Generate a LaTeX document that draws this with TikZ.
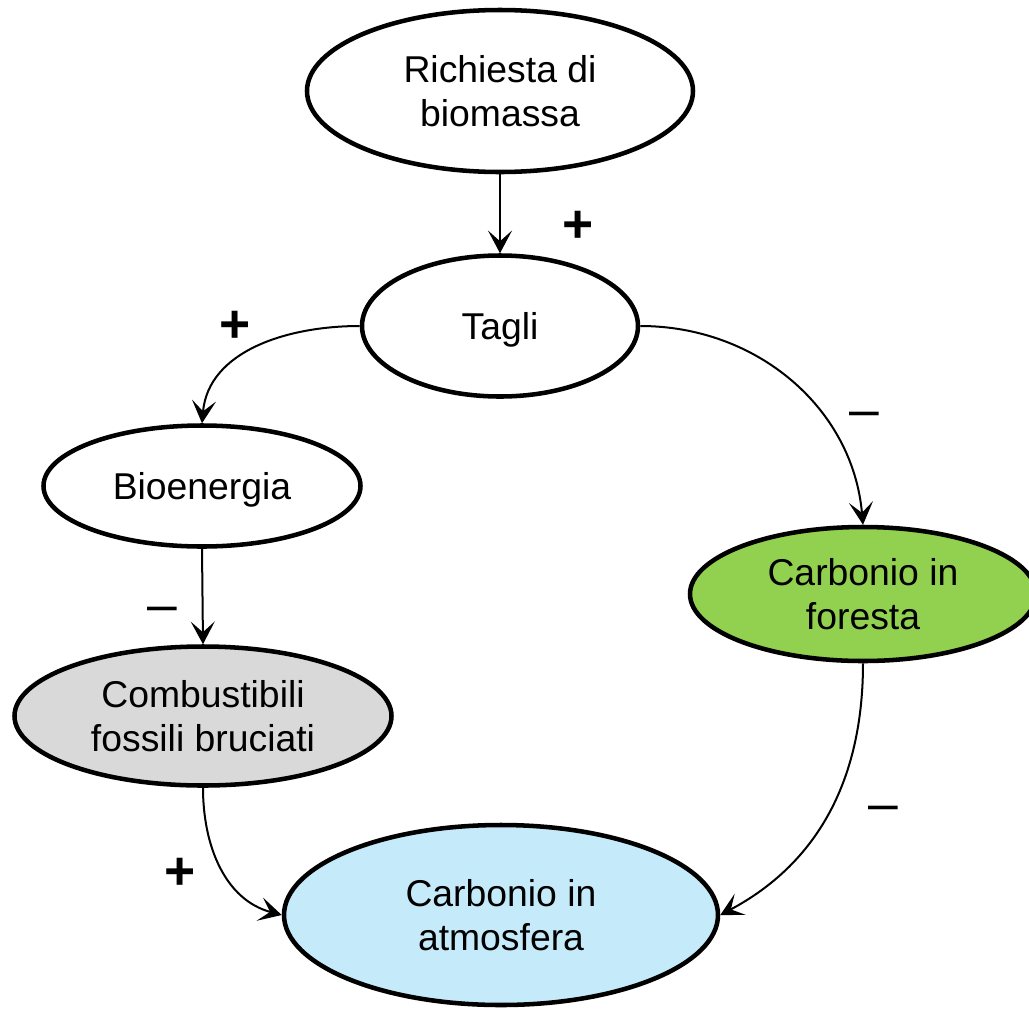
\documentclass[tikz,border=0pt]{standalone}
\usepackage{fontspec}
\setmainfont{Liberation Sans}
\usetikzlibrary{shapes.geometric,arrows.meta}
\definecolor{forestgreen}{HTML}{92D050}
\definecolor{fossilgray}{HTML}{D9D9D9}
\definecolor{atmoblue}{HTML}{C5EBFB}
\tikzset{
  bubble/.style={ellipse, draw=black, line width=3.4pt, inner sep=0pt, align=center,
    font=\fontsize{28}{32.5}\selectfont, text depth=0pt, fill=white},
  link/.style={line width=1.5pt, -{Stealth[length=17pt,width=18pt,inset=8pt]}},
  lbl/.style={font=\fontsize{40}{48}\selectfont, inner sep=0pt, anchor=base}
}
\begin{document}
\begin{tikzpicture}[x=0.75pt,y=-0.75pt]
\useasboundingbox (0,0) rectangle (1029,1008);
\clip (0,0) rectangle (1029,1008);
\node[bubble, minimum width=289.5pt, minimum height=121.5pt] (R) at (500,91) {Richiesta di\\biomassa};
\node[bubble, minimum width=207pt, minimum height=105.75pt] (T) at (500,326) {Tagli};
\node[bubble, minimum width=237.75pt, minimum height=90.75pt] (B) at (202,486) {Bioenergia};
\node[bubble, minimum width=259.5pt, minimum height=100.5pt, fill=forestgreen] (F) at (863,594) {Carbonio in\\foresta};
\node[bubble, minimum width=282.75pt, minimum height=104.25pt, fill=fossilgray] (C) at (203,716) {Combustibili\\fossili bruciati};
\node[bubble, minimum width=325.5pt, minimum height=135pt, fill=atmoblue] (A) at (501,915) {Carbonio in\\atmosfera};

\draw[link] (R.south) -- (T.north);
\draw[link] (T.west) to[out=180,in=85] (B.north);
\draw[link] (T.east) to[out=0,in=95] (F.north);
\draw[link] (B.south) -- (C.north);
\draw[link] (C.south) to[out=-90,in=165] (A.west);
\draw[link] (F.south) to[out=-90,in=28] (A.east);

\node[lbl, font=\fontsize{40}{48}\bfseries] (p1) at (578,242) {+};
\node[lbl, font=\fontsize{40}{48}\bfseries] (p2) at (235,342) {+};
\node[lbl] (m1) at (864,427) {–};
\node[lbl] (m2) at (162,622) {–};
\node[lbl, font=\fontsize{40}{48}\bfseries] (p3) at (180,889) {+};
\node[lbl] (m3) at (883,821) {–};
\end{tikzpicture}
\end{document}
